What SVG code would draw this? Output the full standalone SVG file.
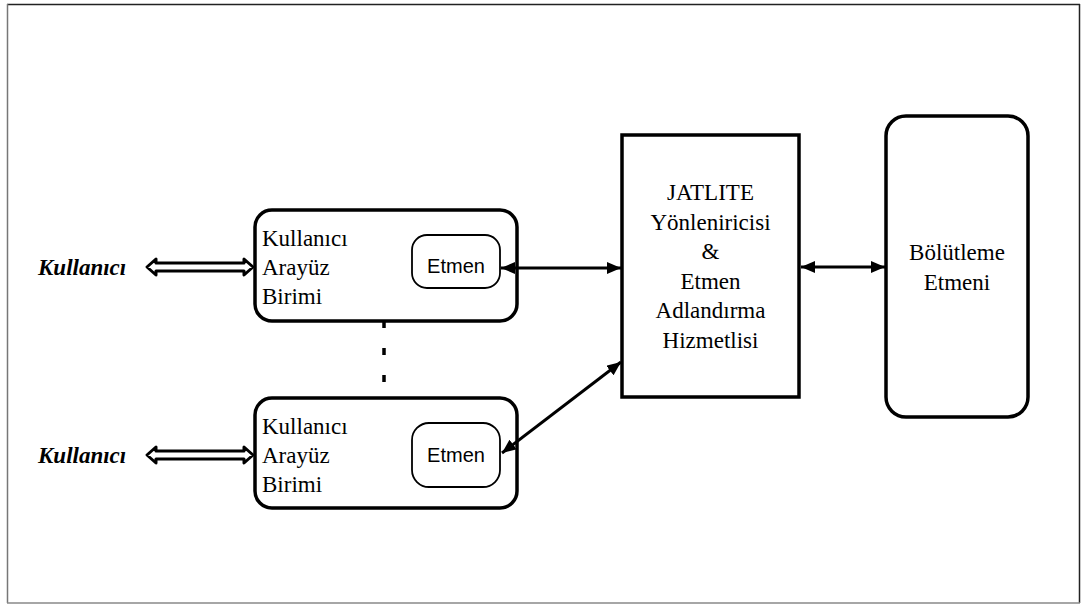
<svg xmlns="http://www.w3.org/2000/svg" width="1082" height="605" viewBox="0 0 1082 605">
  <style>
    .serif { font-family: "Liberation Serif", "Times New Roman", serif; font-size: 23px; fill: #000; }
    .user { font-family: "Liberation Serif", "Times New Roman", serif; font-size: 23px; font-weight: bold; font-style: italic; fill: #000; }
    .sans { font-family: "Liberation Sans", Arial, sans-serif; font-size: 20px; fill: #000; }
    .box { fill: #fff; stroke: #000; stroke-width: 3.5; }
    .inner { fill: #fff; stroke: #000; stroke-width: 1.8; }
    .link { stroke: #000; stroke-width: 3; fill: none; }
    .hollow { fill: #fff; stroke: #000; stroke-width: 3; stroke-linejoin: round; }
  </style>
  <defs>
    <marker id="head" viewBox="0 0 14 12" refX="14" refY="6" markerWidth="14" markerHeight="12" markerUnits="userSpaceOnUse" orient="auto-start-reverse">
      <path d="M0,0 L14,6 L0,12 Z" fill="#000"/>
    </marker>
  </defs>

  <rect x="0" y="0" width="1082" height="605" fill="#fff"/>
  <!-- frame -->
  <g id="frame">
    <line x1="7" y1="4.5" x2="1080" y2="4.5" stroke="#222" stroke-width="1.5"/>
    <line x1="1079.5" y1="4" x2="1079.5" y2="603" stroke="#222" stroke-width="1.5"/>
    <line x1="7.5" y1="4" x2="7.5" y2="603" stroke="#777" stroke-width="1.5"/>
    <line x1="7" y1="603" x2="1080" y2="603" stroke="#888" stroke-width="1.5"/>
  </g>

  <!-- users -->
  <g id="user-top">
    <text class="user" x="38" y="275">Kullanıcı</text>
  </g>
  <g id="user-bottom">
    <text class="user" x="38" y="463">Kullanıcı</text>
  </g>

  <!-- interface unit (top) -->
  <g id="ui-top">
    <rect class="box" x="255" y="210" width="262" height="111" rx="17"/>
    <text class="serif" x="262" y="246">Kullanıcı</text>
    <text class="serif" x="262" y="275">Arayüz</text>
    <text class="serif" x="262" y="304">Birimi</text>
  </g>
  <g id="agent-top">
    <rect class="inner" x="412" y="235" width="88" height="53" rx="15"/>
    <text class="sans" x="456" y="273" text-anchor="middle">Etmen</text>
  </g>

  <!-- interface unit (bottom) -->
  <g id="ui-bottom">
    <rect class="box" x="255" y="398" width="262" height="110" rx="17"/>
    <text class="serif" x="262" y="434">Kullanıcı</text>
    <text class="serif" x="262" y="463">Arayüz</text>
    <text class="serif" x="262" y="492">Birimi</text>
  </g>
  <g id="agent-bottom">
    <rect class="inner" x="412" y="423" width="88" height="64" rx="17"/>
    <text class="sans" x="456" y="462" text-anchor="middle">Etmen</text>
  </g>

  <!-- router / naming service -->
  <g id="router">
    <rect class="box" x="622" y="135" width="177" height="262"/>
    <text class="serif" x="710.5" y="200" text-anchor="middle">JATLITE</text>
    <text class="serif" x="710.5" y="229.5" text-anchor="middle">Yönleniricisi</text>
    <text class="serif" x="710.5" y="259" text-anchor="middle">&amp;</text>
    <text class="serif" x="710.5" y="288.5" text-anchor="middle">Etmen</text>
    <text class="serif" x="710.5" y="318" text-anchor="middle">Adlandırma</text>
    <text class="serif" x="710.5" y="347.5" text-anchor="middle">Hizmetlisi</text>
  </g>

  <!-- segmentation agent -->
  <g id="segmenter">
    <rect class="box" x="886" y="116" width="142" height="301" rx="20"/>
    <text class="serif" x="957" y="260" text-anchor="middle">Bölütleme</text>
    <text class="serif" x="957" y="290" text-anchor="middle">Etmeni</text>
  </g>

  <!-- connectors -->
  <g id="connectors">
    <path class="hollow" d="M147,267 L156,259 L156,263 L244,263 L244,259 L253,267 L244,275 L244,271 L156,271 L156,275 Z"/>
    <path class="hollow" d="M147,455 L156,447 L156,451 L244,451 L244,447 L253,455 L244,463 L244,459 L156,459 L156,463 Z"/>
    <line class="link" x1="501" y1="268" x2="621" y2="268" marker-start="url(#head)" marker-end="url(#head)"/>
    <line class="link" x1="801" y1="267" x2="885" y2="267" marker-start="url(#head)" marker-end="url(#head)"/>
    <line class="link" x1="502" y1="453" x2="621" y2="362" marker-start="url(#head)" marker-end="url(#head)"/>
    <line x1="384" y1="321" x2="384" y2="384" stroke="#000" stroke-width="3.5" stroke-dasharray="7 20"/>
  </g>
</svg>
